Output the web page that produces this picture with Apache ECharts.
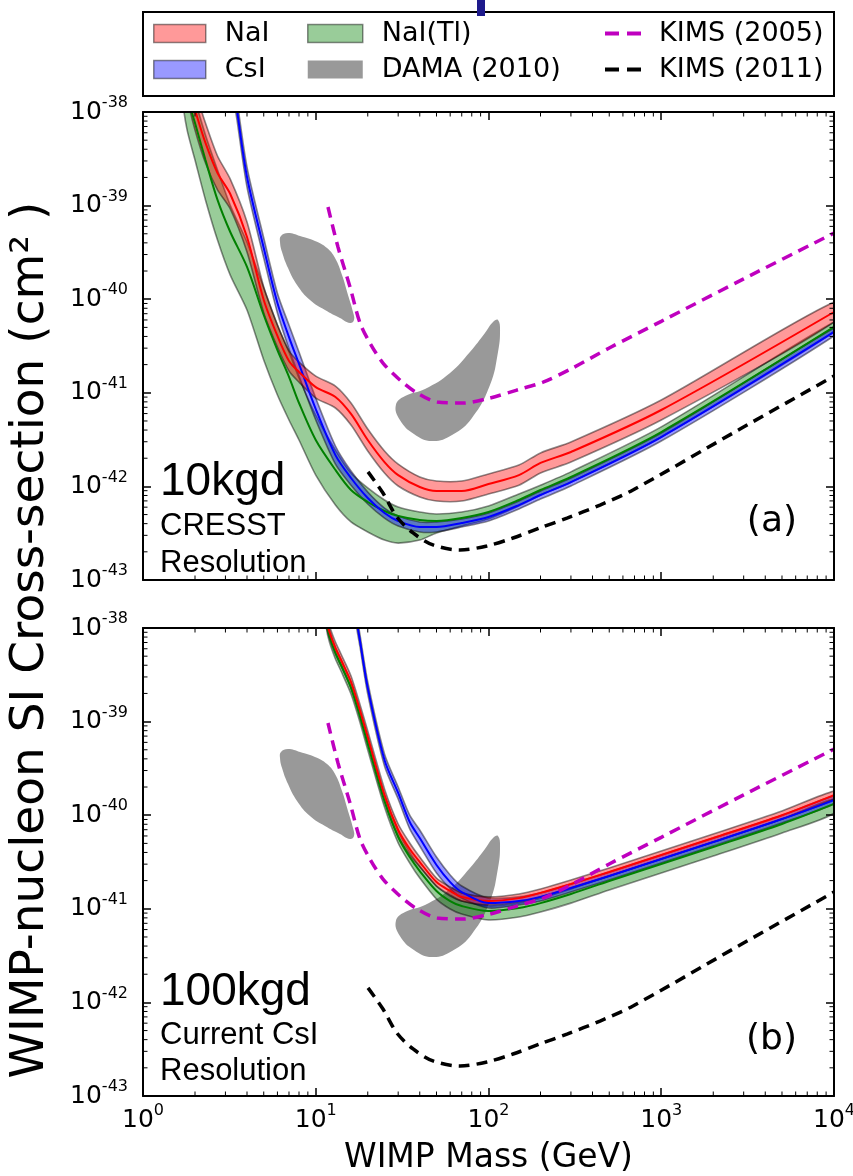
<!DOCTYPE html>
<html><head><meta charset="utf-8">
<script src="https://cdn.jsdelivr.net/npm/echarts@6/dist/echarts.min.js"></script>
<style>html,body{margin:0;padding:0;background:#fff}#c{width:853px;height:1176px}</style>
</head><body><div id="c"></div>
<script>
// ---------------- data (WIMP mass in GeV, cross-section in cm^2) ----------------
const xTickValues = [1, 10, 100, 1000, 10000];

// Panel (a): 10 kgd, CRESST resolution
const naiA_mass = [1.85, 2, 2.3, 2.7, 3.2, 4, 5, 6, 7, 8, 10, 13, 16, 20, 25, 30, 40, 50, 70, 100, 150, 200, 300, 1000, 10000];
const naiA_mid  = [1.72e-38, 1.05e-38, 4.67e-39, 2.23e-39, 1.33e-39, 4.62e-40, 9.80e-41, 4.05e-41, 2.19e-41, 1.67e-41, 1.15e-41, 9.02e-42, 5.94e-42, 3.13e-42, 1.82e-42, 1.32e-42, 9.86e-43, 8.93e-43, 8.93e-43, 1.06e-42, 1.32e-42, 1.78e-42, 2.33e-42, 6.55e-42, 7.30e-41];
const naiA_hi   = [2.95e-38, 1.72e-38, 7.62e-39, 3.39e-39, 1.92e-39, 6.68e-40, 1.35e-40, 5.30e-41, 2.80e-41, 2.13e-41, 1.51e-41, 1.18e-41, 7.78e-42, 4.10e-42, 2.39e-42, 1.73e-42, 1.26e-42, 1.14e-42, 1.14e-42, 1.36e-42, 1.69e-42, 2.28e-42, 2.98e-42, 8.37e-42, 9.33e-41];
const naiA_lo   = [1.19e-38, 6.43e-39, 2.85e-39, 1.47e-39, 9.20e-40, 3.19e-40, 7.13e-41, 3.08e-41, 1.71e-41, 1.30e-41, 8.79e-42, 6.88e-42, 4.53e-42, 2.39e-42, 1.39e-42, 1.01e-42, 7.71e-43, 6.98e-43, 6.98e-43, 8.30e-43, 1.03e-42, 1.39e-42, 1.82e-42, 5.12e-42, 5.70e-41];

const csiA_mass = [3.4, 3.5, 4, 5, 6, 7, 8, 10, 13, 16, 20, 25, 30, 40, 50, 70, 100, 150, 200, 300, 1000, 10000];
const csiA_mid  = [1.52e-38, 1.05e-38, 2.02e-39, 3.52e-40, 9.10e-41, 3.94e-41, 2.03e-41, 6.71e-42, 2.16e-42, 1.23e-42, 7.52e-43, 5.20e-43, 4.27e-43, 3.68e-43, 3.68e-43, 4.06e-43, 4.71e-43, 6.32e-43, 8.09e-43, 1.11e-42, 3.37e-42, 4.47e-41];
const csiA_hi   = [1.94e-38, 1.34e-38, 2.58e-39, 4.51e-40, 1.16e-40, 5.30e-41, 2.73e-41, 8.79e-42, 2.70e-42, 1.46e-42, 8.71e-43, 5.87e-43, 4.83e-43, 4.17e-43, 4.17e-43, 4.49e-43, 5.20e-43, 6.98e-43, 8.93e-43, 1.23e-42, 3.72e-42, 4.92e-41];
const csiA_lo   = [1.19e-38, 8.22e-39, 1.58e-39, 2.75e-40, 7.13e-41, 2.94e-41, 1.51e-41, 5.12e-42, 1.73e-42, 1.03e-42, 6.49e-43, 4.59e-43, 3.78e-43, 3.26e-43, 3.26e-43, 3.68e-43, 4.27e-43, 5.74e-43, 7.33e-43, 1.01e-42, 3.05e-42, 4.05e-41];

const naitlA_mass = [1.7, 1.8, 2, 2.3, 2.7, 3.2, 4, 5, 6, 7, 8, 10, 13, 16, 20, 25, 30, 40, 50, 70, 100, 150, 200, 300, 1000, 10000];
const naitlA_mid  = [3.42e-38, 1.52e-38, 7.62e-39, 3.07e-39, 1.15e-39, 5.22e-40, 2.21e-40, 6.78e-41, 2.86e-41, 1.48e-41, 7.78e-42, 3.13e-42, 1.50e-42, 9.16e-43, 6.81e-43, 5.46e-43, 4.83e-43, 4.38e-43, 4.27e-43, 4.59e-43, 5.32e-43, 7.16e-43, 9.16e-43, 1.26e-42, 3.81e-42, 5.05e-41];
const naitlA_hi   = [5.87e-38, 2.48e-38, 1.34e-38, 5.68e-39, 2.40e-39, 1.01e-39, 4.08e-40, 1.32e-40, 5.30e-41, 2.73e-41, 1.44e-41, 5.79e-42, 2.45e-42, 1.39e-42, 9.62e-43, 7.16e-43, 6.03e-43, 5.32e-43, 5.07e-43, 5.32e-43, 6.18e-43, 8.30e-43, 1.03e-42, 1.43e-42, 4.32e-42, 5.70e-41];
const naitlA_lo   = [1.34e-38, 6.43e-39, 3.07e-39, 1.15e-39, 4.29e-40, 1.81e-40, 7.67e-41, 2.24e-41, 9.46e-42, 5.12e-42, 3.13e-42, 1.32e-42, 6.32e-43, 4.17e-43, 3.26e-43, 2.67e-43, 2.48e-43, 2.67e-43, 3.18e-43, 3.78e-43, 4.49e-43, 6.18e-43, 8.09e-43, 1.11e-42, 3.37e-42, 4.47e-41];

// Panel (b): 100 kgd, current CsI resolution
const naiB_mass = [11.5, 12, 13, 14, 16, 18, 20, 25, 30, 35, 40, 50, 60, 70, 100, 150, 200, 300, 500, 1000, 2000, 5000, 10000];
const naiB_mid  = [1.22e-38, 9.06e-39, 6.11e-39, 4.55e-39, 2.65e-39, 1.33e-39, 6.84e-40, 1.64e-40, 6.95e-41, 4.35e-41, 3.16e-41, 1.93e-41, 1.55e-41, 1.34e-41, 1.21e-41, 1.30e-41, 1.48e-41, 1.84e-41, 2.47e-41, 3.76e-41, 5.70e-41, 1.00e-40, 1.64e-40];
const naiB_hi   = [1.41e-38, 1.05e-38, 7.08e-39, 5.27e-39, 3.07e-39, 1.54e-39, 7.94e-40, 1.91e-40, 8.05e-41, 5.05e-41, 3.57e-41, 2.13e-41, 1.71e-41, 1.48e-41, 1.34e-41, 1.44e-41, 1.63e-41, 2.03e-41, 2.73e-41, 4.14e-41, 6.30e-41, 1.11e-40, 1.81e-40];
const naiB_lo   = [1.05e-38, 7.82e-39, 5.27e-39, 3.93e-39, 2.29e-39, 1.15e-39, 5.90e-40, 1.42e-40, 6.00e-41, 3.76e-41, 2.80e-41, 1.75e-41, 1.40e-41, 1.21e-41, 1.10e-41, 1.18e-41, 1.34e-41, 1.67e-41, 2.24e-41, 3.40e-41, 5.17e-41, 9.10e-41, 1.49e-40];

const naitlB_mass = [11.5, 12, 13, 14, 16, 18, 20, 25, 30, 35, 40, 50, 60, 70, 100, 150, 200, 300, 500, 1000, 2000, 5000, 10000];
const naitlB_mid  = [1.16e-38, 8.22e-39, 5.41e-39, 4.03e-39, 2.29e-39, 1.15e-39, 5.77e-40, 1.42e-40, 5.85e-41, 3.57e-41, 2.53e-41, 1.55e-41, 1.21e-41, 1.07e-41, 9.46e-42, 1.02e-41, 1.15e-41, 1.44e-41, 1.98e-41, 3.01e-41, 4.57e-41, 8.05e-41, 1.32e-40];
const naitlB_hi   = [1.34e-38, 9.53e-39, 6.27e-39, 4.67e-39, 2.65e-39, 1.33e-39, 6.68e-40, 1.64e-40, 6.78e-41, 4.05e-41, 2.86e-41, 1.75e-41, 1.37e-41, 1.21e-41, 1.07e-41, 1.15e-41, 1.30e-41, 1.63e-41, 2.24e-41, 3.40e-41, 5.17e-41, 9.10e-41, 1.49e-40];
const naitlB_lo   = [1.02e-38, 7.08e-39, 4.67e-39, 3.47e-39, 1.97e-39, 9.91e-40, 4.98e-40, 1.22e-40, 5.05e-41, 3.08e-41, 2.13e-41, 1.27e-41, 9.95e-42, 8.79e-42, 7.59e-42, 8.17e-42, 9.24e-42, 1.15e-41, 1.59e-41, 2.41e-41, 3.66e-41, 6.46e-41, 1.05e-40];

const csiB_mass = [17, 18, 20, 25, 30, 35, 40, 50, 60, 70, 100, 150, 200, 300, 500, 1000, 2000, 5000, 10000];
const csiB_mid  = [1.38e-38, 7.45e-39, 2.29e-39, 3.89e-40, 1.73e-40, 8.45e-41, 5.70e-41, 2.94e-41, 1.93e-41, 1.51e-41, 1.15e-41, 1.21e-41, 1.34e-41, 1.67e-41, 2.24e-41, 3.40e-41, 5.17e-41, 9.10e-41, 1.45e-40];
const csiB_hi   = [1.60e-38, 8.63e-39, 2.65e-39, 4.51e-40, 2.00e-40, 1.00e-40, 6.95e-41, 3.57e-41, 2.30e-41, 1.75e-41, 1.30e-41, 1.34e-41, 1.48e-41, 1.84e-41, 2.47e-41, 3.76e-41, 5.70e-41, 1.00e-40, 1.60e-40];
const csiB_lo   = [1.19e-38, 6.43e-39, 1.97e-39, 3.36e-40, 1.49e-40, 7.13e-41, 4.69e-41, 2.41e-41, 1.63e-41, 1.30e-41, 1.02e-41, 1.10e-41, 1.21e-41, 1.51e-41, 2.03e-41, 3.08e-41, 4.69e-41, 8.26e-41, 1.32e-40];

// DAMA (2010) allowed regions (closed contours)
const dama1_mass  = [6.29, 6.91, 8.11, 9.90, 11.62, 12.93, 14.19, 15.37, 16.43, 16.65, 15.79, 13.81, 11.31, 9.26, 7.79, 6.91, 6.38, 6.21];
const dama1_sigma = [4.73e-40, 5.09e-40, 4.73e-40, 4.18e-40, 3.52e-40, 2.75e-40, 1.81e-40, 1.11e-40, 7.30e-41, 6.00e-41, 5.57e-41, 6.30e-41, 7.67e-41, 9.80e-41, 1.42e-40, 2.15e-40, 3.19e-40, 4.08e-40];
const dama2_mass  = [29.1, 32.9, 42.9, 59.9, 78.1, 95.4, 106.2, 113.5, 116.6, 113.5, 102, 80.2, 61.5, 47.1, 37.0, 30.7];
const dama2_sigma = [7.41e-42, 9.24e-42, 1.10e-41, 1.63e-41, 2.73e-41, 4.35e-41, 5.70e-41, 6.00e-41, 4.69e-41, 2.73e-41, 1.21e-41, 5.38e-42, 3.54e-42, 3.05e-42, 3.63e-42, 5.12e-42];

// KIMS limits
const kims05_mass  = [11.77, 13.45, 15.79, 18.04, 20.6, 24.5, 30.7, 38.6, 50.3, 71.2, 102, 146, 207, 300, 500, 1000, 3000, 10000];
const kims05_sigma = [9.66e-40, 3.61e-40, 1.35e-40, 5.57e-41, 3.40e-41, 2.08e-41, 1.37e-41, 9.95e-42, 7.98e-42, 7.78e-42, 8.79e-42, 1.07e-41, 1.30e-41, 1.80e-41, 3.01e-41, 5.8e-41, 1.65e-40, 5.09e-40];
const kims11_mass  = [20.07, 24.5, 29.5, 36.6, 47.7, 68.4, 98, 138.6, 198.7, 284.7, 442, 686, 2858, 10000];
const kims11_sigma = [1.43e-42, 8.49e-43, 4.71e-43, 3.18e-43, 2.37e-43, 2.09e-43, 2.31e-43, 2.81e-43, 3.60e-43, 4.59e-43, 6.32e-43, 9.16e-43, 4.1e-42, 1.51e-41];

// ---------------- plotting ----------------
// y axis works in units of 1e-43 cm^2 (avoids float rounding of tiny numbers); labels show true exponent
const Y_UNIT_EXP = -43;
const yv = s => s * 1e43;
const Y_MIN = 1e-43, Y_MAX = 1e-38;

const FONT = 'DejaVu Sans';
const COL = {
  NaI:   {fill: 'rgba(255,0,0,0.4)',   line: '#ff0000'},
  CsI:   {fill: 'rgba(0,0,255,0.4)',   line: '#0000ff'},
  NaITl: {fill: 'rgba(0,128,0,0.4)',   line: '#008000'},
  edge: 'rgba(0,0,0,0.45)', dama: '#999999', k05: '#bf00bf', k11: '#000000'
};
const zip = (ms, vs) => ms.map((m, i) => [m, yv(vs[i])]);
function clipRect(cs) { return {type: 'rect', shape: {x: cs.x, y: cs.y, width: cs.width, height: cs.height}}; }

function bandSeries(name, ms, lo, hi, fill, gi) {
  const rows = ms.map((m, i) => [m, yv(lo[i]), yv(hi[i])]);
  return {
    type: 'custom', name, xAxisIndex: gi * 2, yAxisIndex: gi * 2, silent: true, z: 3, clip: true,
    data: rows, encode: {x: 0, y: [1, 2]},
    renderItem(params, api) {
      if (params.dataIndex !== 0) return null;
      const pts = [];
      rows.forEach(r => pts.push(api.coord([r[0], r[2]])));
      for (let i = rows.length - 1; i >= 0; i--) pts.push(api.coord([rows[i][0], rows[i][1]]));
      return {type: 'group', clipPath: clipRect(params.coordSys), children: [
        {type: 'polygon', shape: {points: pts, smooth: 0.25},
         style: {fill, stroke: COL.edge, lineWidth: 1.6}}]};
    }
  };
}
function regionSeries(name, ms, vs, gi) {
  const rows = zip(ms, vs);
  return {
    type: 'custom', name, xAxisIndex: gi * 2, yAxisIndex: gi * 2, silent: true, z: 2, clip: true,
    data: rows, encode: {x: 0, y: 1},
    renderItem(params, api) {
      if (params.dataIndex !== 0) return null;
      const pts = rows.map(r => api.coord(r));
      return {type: 'group', clipPath: clipRect(params.coordSys), children: [
        {type: 'polygon', shape: {points: pts, smooth: 0.45}, style: {fill: COL.dama}}]};
    }
  };
}
function lineSeries(name, ms, vs, color, gi, width, dashed) {
  return {
    type: 'line', name, xAxisIndex: gi * 2, yAxisIndex: gi * 2, data: zip(ms, vs),
    smooth: 0.3, showSymbol: false, symbol: 'none', clip: true, silent: true, z: dashed ? 5 : 4,
    lineStyle: {color, width, type: dashed ? [11, 7] : 'solid', cap: 'butt'},
    itemStyle: {color}
  };
}

// minor tick positions (axis decoration only)
const minorX = []; for (let e = 0; e < 4; e++) for (let k = 2; k <= 9; k++) minorX.push(k * Math.pow(10, e));
const minorY = []; for (let e = 0; e < 5; e++) for (let k = 2; k <= 9; k++) minorY.push(k * Math.pow(10, e));
function minorTickSeries(gi, isX) {
  return {
    type: 'custom', xAxisIndex: gi * 2, yAxisIndex: gi * 2, silent: true, z: 11,
    data: isX ? minorX.map(v => [v, 100]) : minorY.map(v => [10, v]),
    renderItem(params, api) {
      const cs = params.coordSys, L = 4.5, st = {stroke: '#000', lineWidth: 1};
      if (isX) {
        const x = api.coord([api.value(0), 100])[0];
        return {type: 'group', children: [
          {type: 'line', shape: {x1: x, y1: cs.y + cs.height, x2: x, y2: cs.y + cs.height - L}, style: st},
          {type: 'line', shape: {x1: x, y1: cs.y, x2: x, y2: cs.y + L}, style: st}]};
      }
      const y = api.coord([10, api.value(1)])[1];
      return {type: 'group', children: [
        {type: 'line', shape: {x1: cs.x, y1: y, x2: cs.x + L, y2: y}, style: st},
        {type: 'line', shape: {x1: cs.x + cs.width, y1: y, x2: cs.x + cs.width - L, y2: y}, style: st}]};
    }
  };
}

const xLabel = v => '{b|10}{s|' + Math.round(Math.log10(v)) + '}';
const yLabel = v => '{b|10}{s|' + (Math.round(Math.log10(v)) + Y_UNIT_EXP) + '}';
const labelRich = {
  b: {fontSize: 25, fontFamily: FONT, color: '#000', lineHeight: 34},
  s: {fontSize: 16, fontFamily: FONT, color: '#000', lineHeight: 17, verticalAlign: 'top'}
};
const axLine = {show: true, lineStyle: {color: '#000', width: 2}};
const axTick = {show: true, inside: true, length: 8, lineStyle: {color: '#000', width: 1.5}};

function xAx(gi, pos, labels) {
  const a = {gridIndex: gi, type: 'log', logBase: 10, min: xTickValues[0], max: xTickValues[xTickValues.length - 1],
    splitNumber: 4, position: pos, z: 10,
    axisLine: axLine, axisTick: axTick, splitLine: {show: false},
    axisLabel: {show: labels, formatter: xLabel, rich: labelRich, margin: 7}};
  if (labels) {
    a.name = 'WIMP Mass (GeV)'; a.nameLocation = 'middle'; a.nameGap = 46;
    a.nameTextStyle = {fontFamily: FONT, fontSize: 33, color: '#000'};
  }
  return a;
}
function yAx(gi, pos, labels) {
  return {gridIndex: gi, type: 'log', logBase: 10, min: yv(Y_MIN), max: yv(Y_MAX), splitNumber: 5, position: pos, z: 10,
    axisLine: axLine, axisTick: axTick, splitLine: {show: false},
    axisLabel: {show: labels, formatter: yLabel, rich: labelRich, margin: 15}};
}

const legendText = {fontFamily: FONT, fontSize: 27, color: '#000', padding: [0, 0, 0, 14]};
const bandIcon = (name, fill) => ({name, icon: 'rect', itemStyle: {color: fill, borderColor: COL.edge, borderWidth: 1.5}});
const dashIcon = (name, color) => ({name, icon: 'path://M0,0H14V4H0Z M22,0H36V4H22Z', itemStyle: {color, borderWidth: 0}});
const legendBase = {top: 20, padding: 0, orient: 'vertical', itemHeight: 18, itemGap: 9, selectedMode: false, textStyle: legendText};

const option = {
  animation: false,
  backgroundColor: '#fff',
  grid: [
    {left: 143, top: 112, width: 691, height: 468, containLabel: false, outerBoundsMode: 'none'},
    {left: 143, top: 628, width: 691, height: 468, containLabel: false, outerBoundsMode: 'none'}
  ],
  xAxis: [xAx(0, 'bottom', false), xAx(0, 'top', false), xAx(1, 'bottom', true), xAx(1, 'top', false)],
  yAxis: [yAx(0, 'left', true), yAx(0, 'right', false), yAx(1, 'left', true), yAx(1, 'right', false)],
  legend: [
    Object.assign({}, legendBase, {left: 153, itemWidth: 52,
      data: [bandIcon('NaI', COL.NaI.fill), bandIcon('CsI', COL.CsI.fill)]}),
    Object.assign({}, legendBase, {left: 307, itemWidth: 55,
      data: [bandIcon('NaI(Tl)', COL.NaITl.fill), {name: 'DAMA (2010)', icon: 'rect', itemStyle: {color: COL.dama, borderWidth: 0}}]}),
    Object.assign({}, legendBase, {left: 605, itemWidth: 36, itemHeight: 4,
      textStyle: Object.assign({}, legendText, {padding: [0, 0, 0, 13]}),
      data: [dashIcon('KIMS (2005)', COL.k05), dashIcon('KIMS (2011)', COL.k11)]})
  ],
  graphic: [
    {type: 'rect', z: -1, shape: {x: 143, y: 12, width: 691, height: 84}, style: {fill: '#fff', stroke: '#000', lineWidth: 2}},
    {type: 'rect', z: 20, shape: {x: 477, y: 0, width: 8, height: 16}, style: {fill: '#1e1a8c'}},
    {type: 'text', x: 31, y: 640, rotation: Math.PI / 2, style: {text: 'WIMP-nucleon SI Cross-section (cm\u00B2 )',
      font: '47px "DejaVu Sans"', fill: '#000', textAlign: 'center', textVerticalAlign: 'middle'}},
    {type: 'text', x: 160, y: 482, style: {text: '10kgd', font: '46px "Liberation Sans"', fill: '#000', textVerticalAlign: 'middle'}},
    {type: 'text', x: 160, y: 526, style: {text: 'CRESST', font: '31px "Liberation Sans"', fill: '#000', textVerticalAlign: 'middle'}},
    {type: 'text', x: 160, y: 563, style: {text: 'Resolution', font: '31px "Liberation Sans"', fill: '#000', textVerticalAlign: 'middle'}},
    {type: 'text', x: 797, y: 522, style: {text: '(a)', font: '36px "DejaVu Sans"', fill: '#000', textAlign: 'right', textVerticalAlign: 'middle'}},
    {type: 'text', x: 160, y: 992, style: {text: '100kgd', font: '46px "Liberation Sans"', fill: '#000', textVerticalAlign: 'middle'}},
    {type: 'text', x: 160, y: 1035, style: {text: 'Current CsI', font: '31px "Liberation Sans"', fill: '#000', textVerticalAlign: 'middle'}},
    {type: 'text', x: 160, y: 1071, style: {text: 'Resolution', font: '31px "Liberation Sans"', fill: '#000', textVerticalAlign: 'middle'}},
    {type: 'text', x: 797, y: 1040, style: {text: '(b)', font: '36px "DejaVu Sans"', fill: '#000', textAlign: 'right', textVerticalAlign: 'middle'}}
  ],
  series: []
};

[0, 1].forEach(gi => {
  option.series.push(regionSeries('DAMA (2010)', dama1_mass, dama1_sigma, gi));
  option.series.push(regionSeries('DAMA (2010)', dama2_mass, dama2_sigma, gi));
});
option.series.push(bandSeries('NaI(Tl)', naitlA_mass, naitlA_lo, naitlA_hi, COL.NaITl.fill, 0));
option.series.push(bandSeries('CsI', csiA_mass, csiA_lo, csiA_hi, COL.CsI.fill, 0));
option.series.push(bandSeries('NaI', naiA_mass, naiA_lo, naiA_hi, COL.NaI.fill, 0));
option.series.push(lineSeries('NaI(Tl) median a', naitlA_mass, naitlA_mid, COL.NaITl.line, 0, 2));
option.series.push(lineSeries('CsI median a', csiA_mass, csiA_mid, COL.CsI.line, 0, 2));
option.series.push(lineSeries('NaI median a', naiA_mass, naiA_mid, COL.NaI.line, 0, 2));
option.series.push(bandSeries('NaI(Tl)', naitlB_mass, naitlB_lo, naitlB_hi, COL.NaITl.fill, 1));
option.series.push(bandSeries('CsI', csiB_mass, csiB_lo, csiB_hi, COL.CsI.fill, 1));
option.series.push(bandSeries('NaI', naiB_mass, naiB_lo, naiB_hi, COL.NaI.fill, 1));
option.series.push(lineSeries('NaI(Tl) median b', naitlB_mass, naitlB_mid, COL.NaITl.line, 1, 2));
option.series.push(lineSeries('NaI median b', naiB_mass, naiB_mid, COL.NaI.line, 1, 2));
option.series.push(lineSeries('CsI median b', csiB_mass, csiB_mid, COL.CsI.line, 1, 2));
[0, 1].forEach(gi => {
  option.series.push(lineSeries('KIMS (2005)', kims05_mass, kims05_sigma, COL.k05, gi, 3.5, true));
  option.series.push(lineSeries('KIMS (2011)', kims11_mass, kims11_sigma, COL.k11, gi, 3.5, true));
  option.series.push(minorTickSeries(gi, true));
  option.series.push(minorTickSeries(gi, false));
});

const chart = echarts.init(document.getElementById('c'), null, {renderer: 'canvas'});
chart.setOption(option);
</script>
</body></html>
